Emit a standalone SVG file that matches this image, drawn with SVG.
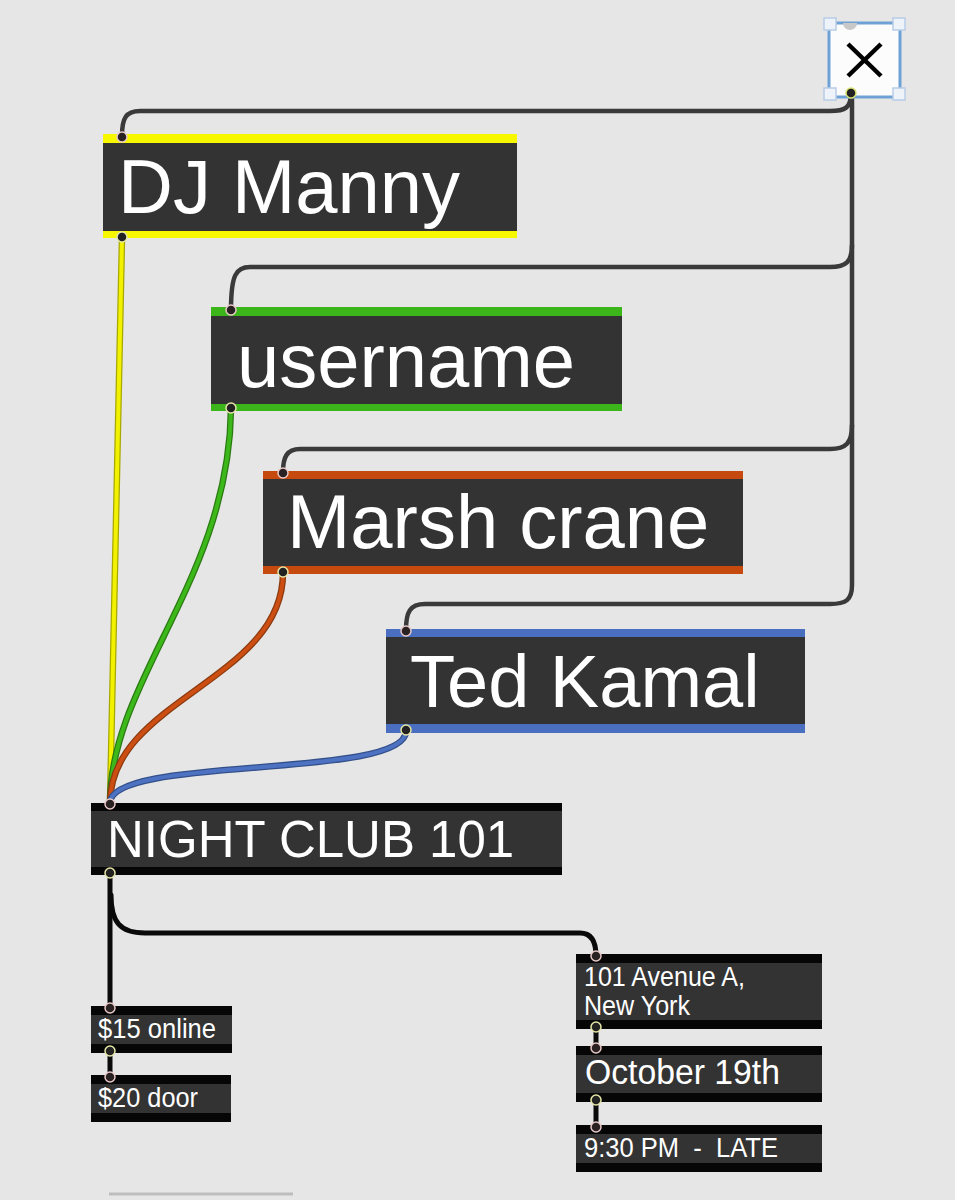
<svg xmlns="http://www.w3.org/2000/svg" width="955" height="1200" viewBox="0 0 955 1200">
<style>
.bg{fill:#e6e6e6}
.dark{fill:#333333}
.blk{fill:#060606}
.big{font-family:"Liberation Sans",Arial,sans-serif;fill:#ffffff;font-size:76px}
.mid{font-family:"Liberation Sans",Arial,sans-serif;fill:#ffffff;font-size:51px}
.sm{font-family:"Liberation Sans",Arial,sans-serif;fill:#ffffff;font-size:28px}
.cord{fill:none;stroke:#3a3a3a;stroke-width:4.5;stroke-linecap:round}
.bcord{fill:none;stroke:#0a0a0a;stroke-width:5;stroke-linecap:round}
.under{fill:none;stroke-width:6.5;stroke-linecap:round}
.col{fill:none;stroke-width:4;stroke-linecap:round}
.in{fill:#2a2222;stroke:#e9c9c9;stroke-width:1.5}
.out{fill:#222;stroke:#e6e6a8;stroke-width:1.5}
.handle{fill:#eef3fa;stroke:#b8cce6;stroke-width:1.5}
</style>
<rect class="bg" x="0" y="0" width="955" height="1200"/>

<g id="connectors">
  <path class="cord" d="M851,93 C851,108 845,111 830,111 L140,111 C126,111 122,118 122,136"/>
  <path class="cord" d="M852,93 L852,585 C852,600 846,604 830,604 L425,604 C410,604 406,612 406,630"/>
  <path class="cord" d="M852,245 C852,262 846,267 830,267 L250,267 C236,267 231,275 231,310"/>
  <path class="cord" d="M852,425 C852,443 846,449 830,449 L300,449 C287,449 283,457 283,472"/>
  <path class="under" stroke="#a8a800" d="M122,238 L110,803"/>
  <path class="col" stroke="#f2f200" d="M122,238 L110,803"/>
  <path class="under" stroke="#2a7a12" d="M231,409 C229,580 110,680 110,803"/>
  <path class="col" stroke="#3cb81a" d="M231,409 C229,580 110,680 110,803"/>
  <path class="under" stroke="#8a3a10" d="M283,573 C283,680 110,700 110,803"/>
  <path class="col" stroke="#cc4e12" d="M283,573 C283,680 110,700 110,803"/>
  <path class="under" stroke="#34508a" d="M406,731 C406,780 110,755 110,803"/>
  <path class="col" stroke="#4d72c2" d="M406,731 C406,780 110,755 110,803"/>
  <path class="bcord" d="M110,874 L110,1008"/>
  <path class="bcord" d="M111,895 C111,922 120,933 145,933 L580,933 C592,933 596,942 596,956"/>
  <path class="bcord" d="M110,1051 L110,1077"/>
  <path class="bcord" d="M596,1027 L596,1048"/>
  <path class="bcord" d="M596,1100 L596,1127"/>
</g>

<g id="node-x">
  <rect x="829" y="23" width="71" height="74" fill="#fcfcfc" stroke="#6ea2d6" stroke-width="3"/>
  <path d="M848,44 L881,76 M881,44 L848,76" stroke="#000" stroke-width="4.5" fill="none"/>
  <path d="M843,23 A7,7 0 0 0 857,23 Z" fill="#c8c8c8"/>
  <rect class="handle" x="824" y="18" width="12" height="12"/>
  <rect class="handle" x="893" y="18" width="12" height="12"/>
  <rect class="handle" x="824" y="88" width="12" height="12"/>
  <rect class="handle" x="893" y="88" width="12" height="12"/>
  <circle class="out" cx="851" cy="93" r="5" style="stroke:#d8e070"/>
</g>

<g id="node-dj-manny">
  <rect x="103" y="134" width="414" height="104" fill="#f7f700"/>
  <rect class="dark" x="103" y="143" width="414" height="88"/>
  <text class="big" x="118" y="213">DJ Manny</text>
  <circle class="in" cx="122" cy="137" r="5"/>
  <circle class="out" cx="122" cy="237" r="5"/>
</g>

<g id="node-username">
  <rect x="211" y="307" width="411" height="104" fill="#3bb51a"/>
  <rect class="dark" x="211" y="316" width="411" height="88"/>
  <text class="big" x="237" y="387">username</text>
  <circle class="in" cx="231" cy="310" r="5"/>
  <circle class="out" cx="231" cy="408" r="5"/>
</g>

<g id="node-marsh-crane">
  <rect x="263" y="471" width="480" height="103" fill="#c64a0e"/>
  <rect class="dark" x="263" y="479" width="480" height="87"/>
  <text class="big" x="287" y="548">Marsh crane</text>
  <circle class="in" cx="283" cy="473" r="5"/>
  <circle class="out" cx="283" cy="572" r="5"/>
</g>

<g id="node-ted-kamal">
  <rect x="386" y="629" width="419" height="104" fill="#4a6ec0"/>
  <rect class="dark" x="386" y="637" width="419" height="87"/>
  <text class="big" x="410" y="707" style="font-size:74px">Ted Kamal</text>
  <circle class="in" cx="406" cy="631" r="5"/>
  <circle class="out" cx="406" cy="730" r="5"/>
</g>

<g id="node-night-club">
  <rect class="blk" x="91" y="803" width="471" height="72"/>
  <rect class="dark" x="91" y="811" width="471" height="56"/>
  <text class="mid" x="107" y="857">NIGHT CLUB 101</text>
  <circle class="in" cx="110" cy="804" r="5"/>
  <circle class="out" cx="110" cy="873" r="5"/>
</g>

<g id="node-15-online">
  <rect class="blk" x="91" y="1006" width="141" height="47"/>
  <rect class="dark" x="91" y="1015" width="141" height="29"/>
  <text class="sm" x="98" y="1038" textLength="118" lengthAdjust="spacingAndGlyphs">$15 online</text>
  <circle class="in" cx="110" cy="1008" r="5"/>
  <circle class="out" cx="110" cy="1051" r="5"/>
</g>

<g id="node-20-door">
  <rect class="blk" x="91" y="1075" width="140" height="47"/>
  <rect class="dark" x="91" y="1084" width="140" height="29"/>
  <text class="sm" x="98" y="1107" textLength="100" lengthAdjust="spacingAndGlyphs">$20 door</text>
  <circle class="in" cx="110" cy="1077" r="5"/>
</g>

<g id="node-address">
  <rect class="blk" x="576" y="954" width="246" height="75"/>
  <rect class="dark" x="576" y="963" width="246" height="57"/>
  <text class="sm" x="584" y="986" textLength="161" lengthAdjust="spacingAndGlyphs">101 Avenue A,</text>
  <text class="sm" x="584" y="1015" textLength="106" lengthAdjust="spacingAndGlyphs">New York</text>
  <circle class="in" cx="596" cy="956" r="5"/>
  <circle class="out" cx="596" cy="1027" r="5"/>
</g>

<g id="node-date">
  <rect class="blk" x="576" y="1046" width="246" height="56"/>
  <rect class="dark" x="576" y="1055" width="246" height="38"/>
  <text class="sm" x="585" y="1084" style="font-size:35px" textLength="195" lengthAdjust="spacingAndGlyphs">October 19th</text>
  <circle class="in" cx="596" cy="1048" r="5"/>
  <circle class="out" cx="596" cy="1100" r="5"/>
</g>

<g id="node-time">
  <rect class="blk" x="576" y="1125" width="246" height="47"/>
  <rect class="dark" x="576" y="1134" width="246" height="29"/>
  <text class="sm" x="584" y="1157" xml:space="preserve" textLength="194" lengthAdjust="spacingAndGlyphs">9:30 PM  -  LATE</text>
  <circle class="in" cx="596" cy="1127" r="5"/>
</g>

<line x1="109" y1="1194" x2="293" y2="1194" stroke="#bdbdbd" stroke-width="3"/>
</svg>
